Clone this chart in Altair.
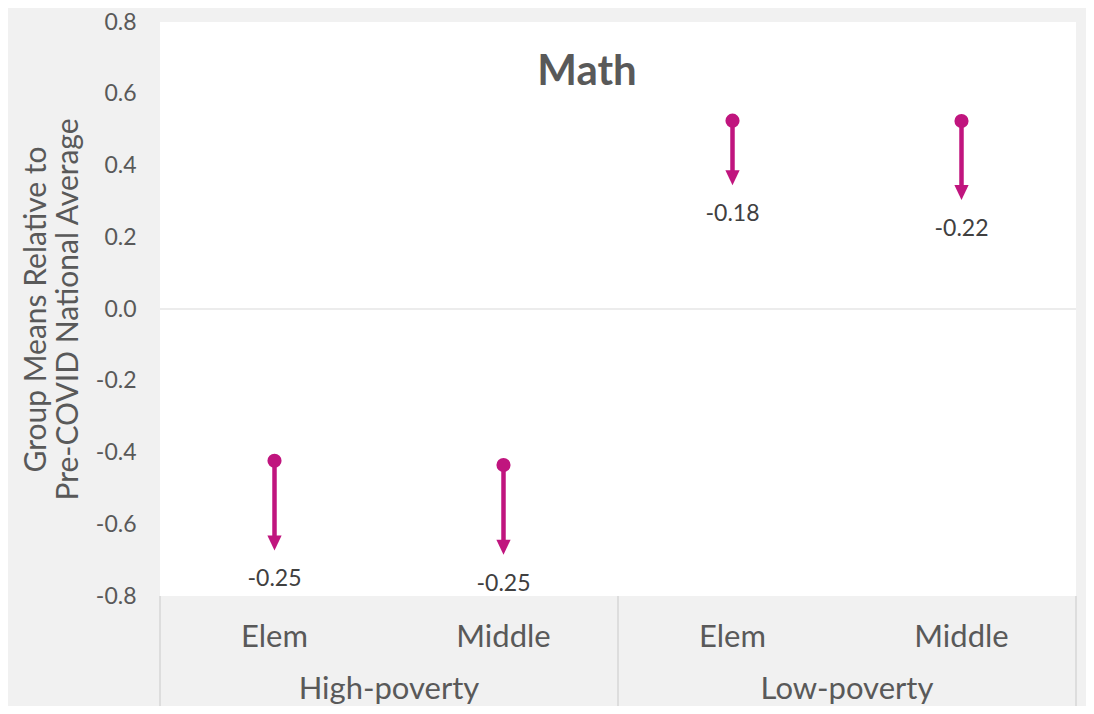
import altair as alt
import pandas as pd

# ---- data ----
groups = ["High-poverty", "High-poverty", "Low-poverty", "Low-poverty"]
levels = ["Elem", "Middle", "Elem", "Middle"]
pre_means = [-0.423, -0.435, 0.525, 0.524]      # circle (start) positions
changes = [-0.25, -0.25, -0.18, -0.22]           # arrow length / labels
y_ticks = [-0.8, -0.6, -0.4, -0.2, 0.0, 0.2, 0.4, 0.6, 0.8]

keys = [f"{g}|{l}" for g, l in zip(groups, levels)]
df = pd.DataFrame({
    "key": keys, "group": groups, "level": levels,
    "pre": pre_means, "change": changes,
})
df["post"] = df["pre"] + df["change"]
df["label"] = [f"{c:.2f}" for c in changes]

MAGENTA = "#c0157e"
GRAY_TXT = "#595959"
FONT = "Lato"

xscale = alt.Scale(type="band", paddingInner=0, paddingOuter=0)
xaxis = alt.Axis(
    title=None, labelExpr="split(datum.label, '|')[1]", labelAngle=0,
    labelFontSize=31, labelColor=GRAY_TXT, labelFont=FONT,
    labelPadding=26, ticks=False, domain=False, grid=False,
)
yscale = alt.Scale(domain=[-0.8, 0.8], nice=False, zero=False)
yaxis = alt.Axis(
    title=["Group Means Relative to", "Pre-COVID National Average"],
    titleFontSize=30, titleFont=FONT, titleColor=GRAY_TXT, titleFontWeight="normal",
    titlePadding=12, titleLineHeight=32, values=y_ticks,
    labelExpr="(datum.value < 0 ? '-' : '') + format(abs(datum.value), '.1f')",
    labelFontSize=23, labelColor=GRAY_TXT, labelFont=FONT, labelPadding=24,
    ticks=False, domain=False, grid=False,
)

X = alt.X("key:N", sort=keys, scale=xscale, axis=xaxis)

base = alt.Chart(df)

zero = alt.Chart(pd.DataFrame({"y": [0.0]})).mark_rule(color="#d9d9d9", strokeWidth=1).encode(
    y=alt.Y("y:Q", scale=yscale, axis=yaxis)
)

shaft = base.mark_rule(color=MAGENTA, strokeWidth=4.5, y2Offset=-8).encode(
    x=X, y=alt.Y("pre:Q", scale=yscale, axis=yaxis), y2="post:Q"
)
start = base.mark_circle(color=MAGENTA, size=200, opacity=1).encode(
    x=X, y=alt.Y("pre:Q", scale=yscale, axis=yaxis)
)
head = base.mark_point(
    shape="M-0.95,-2L0.95,-2L0,0Z", size=225, filled=True, opacity=1, color=MAGENTA
).encode(x=X, y=alt.Y("post:Q", scale=yscale, axis=yaxis))
labels = base.mark_text(
    dy=29, fontSize=23, font=FONT, color="#404040", baseline="middle"
).encode(x=X, y=alt.Y("post:Q", scale=yscale, axis=yaxis), text="label:N")

# separators in the category band below the plot
sep_left = alt.Chart(df[df["level"] == "Elem"]).mark_rule(color="#d6d6d6", strokeWidth=1.5).encode(
    x=alt.X("key:N", sort=keys, scale=xscale, axis=xaxis, bandPosition=0),
    y=alt.value(574), y2=alt.value(730),
)
sep_right = alt.Chart(df.iloc[[-1]]).mark_rule(color="#d6d6d6", strokeWidth=1.5).encode(
    x=alt.X("key:N", sort=keys, scale=xscale, axis=xaxis, bandPosition=1),
    y=alt.value(574), y2=alt.value(730),
)
group_labels = alt.Chart(df[df["level"] == "Middle"]).mark_text(
    fontSize=31, font=FONT, color=GRAY_TXT, baseline="alphabetic"
).encode(
    x=alt.X("key:N", sort=keys, scale=xscale, axis=xaxis, bandPosition=0),
    y=alt.value(677), text="group:N",
)

chart = alt.layer(
    zero, sep_left, sep_right, shaft, start, head, labels, group_labels
).properties(
    width=916, height=574,
    title=alt.TitleParams(
        "Math", fontSize=42, font=FONT, fontWeight="bold", color=GRAY_TXT,
        anchor="middle", frame="group", offset=-116, baseline="alphabetic", dx=-31,
    ),
    autosize=alt.AutoSizeParams(type="none"),
    padding={"left": 152, "top": 14, "right": 10, "bottom": 110},
    background="#f1f1f1",
).configure(font=FONT).configure_view(fill="white", strokeWidth=0)

chart.save("out.html", embed_options={"renderer": "svg", "actions": False})
